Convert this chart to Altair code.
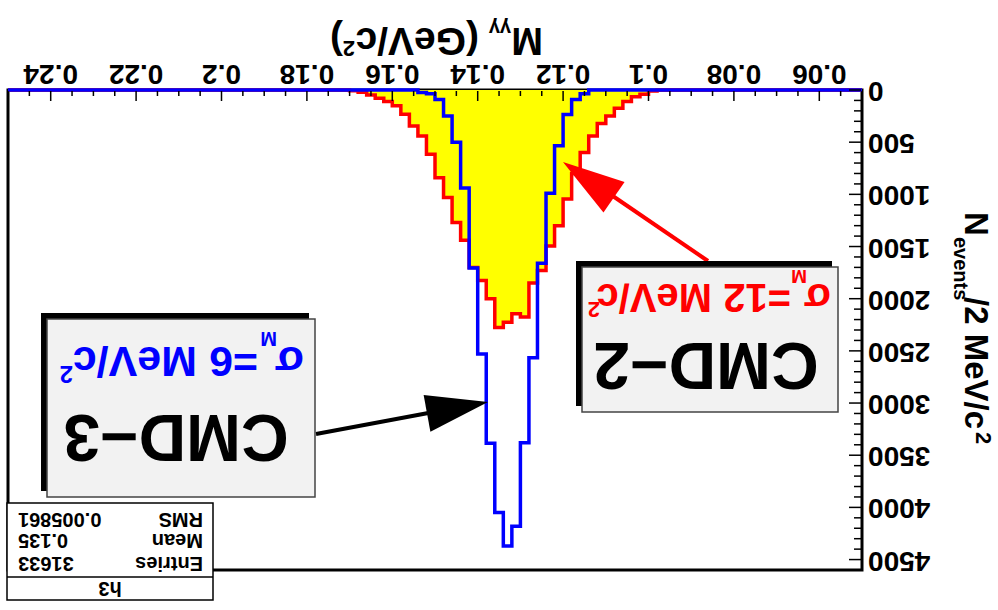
import altair as alt
import numpy as np
import pandas as pd

FONT = "Liberation Sans"

# ---------------- data ----------------
X_MIN, X_MAX, BIN_W = 0.05, 0.25, 0.002
Y_MAX = 4600

# CMD-2 (sigma_M = 12 MeV/c^2), first bin lower edge 0.100 GeV/c^2
red_first_bin = 0.100
red_counts = [10, 40, 65, 110, 175, 250, 320, 440, 600, 800, 1045, 1300, 1495,
              1730, 1850, 2175, 2145, 2225, 2275, 2000, 1825, 1700, 1440, 1270,
              1030, 840, 615, 440, 345, 232, 152, 110, 78, 48, 22, 8]

# CMD-3 (sigma_M = 6 MeV/c^2), first bin lower edge 0.116 GeV/c^2
blue_first_bin = 0.116
blue_counts = [35, 90, 235, 535, 990, 1660, 2565, 3380, 4180, 4370, 4050, 3385,
               2530, 1705, 940, 500, 250, 90, 35, 25]

x_major_ticks = [0.06, 0.08, 0.10, 0.12, 0.14, 0.16, 0.18, 0.20, 0.22, 0.24]
x_tick_labels = ["0.06", "0.08", "0.1", "0.12", "0.14", "0.16", "0.18", "0.2", "0.22", "0.24"]
x_minor_step = 0.005

y_major_ticks = [0, 500, 1000, 1500, 2000, 2500, 3000, 3500, 4000, 4500]
y_tick_labels = ["0", "500", "1000", "1500", "2000", "2500", "3000", "3500", "4000", "4500"]
y_minor_step = 100

stats_labels = ["Entries", "Mean", "RMS"]
stats_values = ["31633", "0.135", "0.005861"]

# ---------------- tables ----------------
edges = np.round(np.arange(X_MIN, X_MAX + BIN_W / 2, BIN_W), 4)
nbins = len(edges) - 1


def hist_frame(first, counts):
    full = np.zeros(nbins)
    i0 = int(round((first - X_MIN) / BIN_W))
    full[i0:i0 + len(counts)] = counts
    return pd.DataFrame({"mass": edges, "n": np.append(full, 0.0)})


red_df = hist_frame(red_first_bin, red_counts)
blue_df = hist_frame(blue_first_bin, blue_counts)

x_all = np.round(np.arange(X_MIN, X_MAX + 1e-9, x_minor_step), 4)
x_minor = [v for v in x_all if min(abs(v - m) for m in x_major_ticks) > 1e-6]
y_all = list(range(0, Y_MAX + 1, y_minor_step))
y_minor = [v for v in y_all if v not in y_major_ticks]

W, H = 854, 480
xs = alt.Scale(domain=[X_MIN, X_MAX], reverse=True, nice=False, zero=False)
ys = alt.Scale(domain=[0, Y_MAX], reverse=True, nice=False)

X = lambda f: alt.X(f, scale=xs, axis=None)
Y = lambda f: alt.Y(f, scale=ys, axis=None)

layers = []

# histograms
layers.append(alt.Chart(red_df).mark_area(interpolate="step-after", color="#ffff00")
              .encode(x=X("mass:Q"), y=Y("n:Q")))
layers.append(alt.Chart(red_df).mark_line(interpolate="step-after", color="#ff0000", strokeWidth=3.5)
              .encode(x=X("mass:Q"), y=Y("n:Q")))
layers.append(alt.Chart(blue_df).mark_line(interpolate="step-after", color="#0000ff", strokeWidth=3.5)
              .encode(x=X("mass:Q"), y=Y("n:Q")))

# ticks (inside the frame, as in ROOT)
layers.append(alt.Chart(pd.DataFrame({"v": x_major_ticks})).mark_rule(color="black", strokeWidth=1.5)
              .encode(x=X("v:Q"), y=alt.value(1), y2=alt.value(11)))
layers.append(alt.Chart(pd.DataFrame({"v": x_minor})).mark_rule(color="black", strokeWidth=1.5)
              .encode(x=X("v:Q"), y=alt.value(1), y2=alt.value(6)))
layers.append(alt.Chart(pd.DataFrame({"v": y_major_ticks})).mark_rule(color="black", strokeWidth=1.5)
              .encode(y=Y("v:Q"), x=alt.value(W - 1), x2=alt.value(W - 13)))
layers.append(alt.Chart(pd.DataFrame({"v": y_minor})).mark_rule(color="black", strokeWidth=1.5)
              .encode(y=Y("v:Q"), x=alt.value(W - 1), x2=alt.value(W - 8)))

# tick labels (upside down)
layers.append(alt.Chart(pd.DataFrame({"v": x_major_ticks, "t": x_tick_labels}))
              .mark_text(angle=180, align="center", baseline="middle", font=FONT, fontSize=28,
                         fontWeight="bold", color="black")
              .encode(x=X("v:Q"), y=alt.value(-17), text="t:N"))
layers.append(alt.Chart(pd.DataFrame({"v": y_major_ticks, "t": y_tick_labels}))
              .mark_text(angle=180, align="right", baseline="middle", font=FONT, fontSize=28,
                         fontWeight="bold", color="black")
              .encode(y=Y("v:Q"), x=alt.value(W + 6), text="t:N"))

one = pd.DataFrame({"k": [0]})


def txt(s, x, y, size, color="black", align="left", baseline="alphabetic", angle=180):
    return (alt.Chart(one)
            .mark_text(text=s, angle=angle, align=align, baseline=baseline, font=FONT,
                       fontSize=size, fontWeight="bold", color=color)
            .encode(x=alt.value(x), y=alt.value(y)))


def rect(x1, y1, x2, y2, fill, stroke=None, sw=0):
    kw = dict(fill=fill)
    if stroke:
        kw.update(stroke=stroke, strokeWidth=sw)
    else:
        kw.update(strokeWidth=0)
    return (alt.Chart(one).mark_rect(**kw)
            .encode(x=alt.value(x1), x2=alt.value(x2), y=alt.value(y1), y2=alt.value(y2)))


def shaft(x1, y1, x2, y2, color):
    return (alt.Chart(one).mark_rule(color=color, strokeWidth=4)
            .encode(x=alt.value(x1), y=alt.value(y1), x2=alt.value(x2), y2=alt.value(y2)))


def head(cx, cy, ang, color):
    return (alt.Chart(one)
            .mark_point(shape="M 1 0 L -1 -0.6 L -1 0.6 Z", filled=True, size=3844, angle=ang,
                        color=color, opacity=1, strokeWidth=0)
            .encode(x=alt.value(cx), y=alt.value(cy)))


# axis titles (upside down)
layers += [
    txt("M", 535, -62, 38),
    txt("γγ", 503, -68, 20),
    txt("(GeV/c", 471, -62, 39),
    txt("2", 347, -49, 22),
    txt(")", 335, -62, 39),
]
layers += [
    txt("N", 957, 122, 33, angle=90),
    txt("events", 946, 147, 20, angle=90),
    txt("/2 MeV/c", 957, 207, 33, angle=90),
    txt("2", 968, 342, 22, angle=90),
]

# arrows
layers += [
    shaft(700, 171, 596, 100, "#ff0000"),
    head(580.5, 89.6, 214.6, "#ff0000"),
    shaft(308, 344, 431, 321, "black"),
    head(449.5, 317.7, 349.5, "black"),
]

# CMD-3 box
layers += [
    rect(33, 223, 301, 401, "black"),
    rect(39, 229, 307, 407, "#f2f2f2", "#444444", 1.5),
    txt("CMD−3", 168, 325, 66, align="center"),
    txt("σ", 296, 257, 43, color="#0000ff"),
    txt("M", 269, 242, 20, color="#0000ff"),
    txt("=6 MeV/c", 250, 257, 43, color="#0000ff"),
    txt("2", 65, 276, 24, color="#0000ff"),
]

# CMD-2 box
layers += [
    rect(568, 171, 824, 316, "black"),
    rect(574, 177, 830, 322, "#f2f2f2", "#444444", 1.5),
    txt("CMD−2", 698, 253, 66, align="center"),
    txt("σ", 823, 194, 40, color="#ff0000"),
    txt("M", 799, 180, 19, color="#ff0000"),
    txt("=12 MeV/c", 783, 194, 40, color="#ff0000"),
    txt("2", 592, 212, 22, color="#ff0000"),
]

# stats box
stats_rows_y = [473, 450, 429]
layers += [
    rect(-1, 413, 205, 510, "white", "black", 1.5),
    alt.Chart(one).mark_rule(color="black", strokeWidth=1.5)
    .encode(x=alt.value(-1), x2=alt.value(205), y=alt.value(487)),
    txt("h3", 102, 498, 20, align="center", baseline="middle"),
]
for lab, val, ry in zip(stats_labels, stats_values, stats_rows_y):
    layers.append(txt(lab, 195, ry, 20, align="left", baseline="middle"))
    layers.append(txt(val, 10, ry, 20, align="right", baseline="middle"))

chart = (alt.layer(*layers)
         .properties(width=W, height=H, background="white", autosize=alt.AutoSizeParams(type="none"),
                     padding={"left": 8, "top": 90, "right": 998 - 8 - W, "bottom": 610 - 90 - H})
         .configure_view(stroke="black", strokeWidth=3))

chart.save("out.html", embed_options={"renderer": "svg", "actions": False})
